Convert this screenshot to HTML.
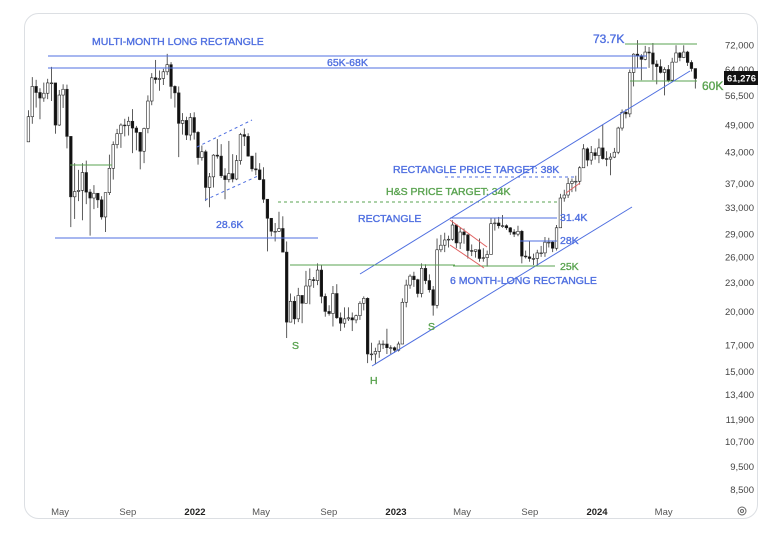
<!DOCTYPE html>
<html><head><meta charset="utf-8"><style>
html,body{margin:0;padding:0;background:#fff;}
svg{display:block;font-family:"Liberation Sans",sans-serif;}
</style></head><body>
<svg id="chart" width="783" height="538" viewBox="0 0 783 538" xmlns="http://www.w3.org/2000/svg">
<rect x="24.5" y="13.5" width="733" height="505" rx="14" fill="#fff" stroke="#dcdfe3"/>
<g id="candles"></g>
<g id="annot"></g>
<g id="axes"></g>
</svg>
<script>
// weekly candles starting 2021-03-01 (values in thousands USD)
const startDate = "2021-03-01";
const firstOpen = 45.2;
const closes = [51.0,59.0,57.3,55.8,57.1,60.0,60.0,49.0,56.6,58.2,46.4,34.7,35.6,35.8,39.0,35.5,34.5,35.3,34.2,31.5,35.4,39.8,44.6,47.0,49.0,48.9,49.9,48.3,47.3,43.2,48.2,55.0,61.5,61.0,61.3,63.3,65.5,59.0,57.2,49.4,50.1,46.7,50.8,47.3,
41.9,43.1,36.3,38.2,42.4,42.2,38.4,37.7,38.8,37.8,41.3,46.8,46.4,42.2,39.7,39.5,37.7,34.3,31.3,29.4,29.4,29.8,26.6,19.0,21.0,19.3,21.6,20.8,22.6,23.3,23.2,24.4,21.5,20.0,19.8,21.8,19.4,18.9,19.3,19.4,19.2,19.6,20.8,21.3,16.3,16.3,16.5,17.1,17.1,16.8,16.8,16.6,
17.1,20.9,22.7,23.7,23.3,21.8,24.6,23.2,22.2,20.6,26.9,27.5,28.2,28.3,30.3,27.8,29.3,28.9,26.8,26.7,26.9,25.8,25.9,26.3,30.5,30.6,30.2,30.2,29.9,29.3,29.0,29.4,26.1,26.0,25.8,25.8,26.5,26.5,27.9,27.9,27.1,29.9,34.5,35.0,37.0,37.4,37.4,39.9,43.7,41.4,42.9,42.3,
43.9,41.7,41.6,42.0,43.0,48.3,52.1,51.7,63.1,68.9,68.4,67.2,69.6,69.3,65.7,64.9,63.1,64.0,60.8,66.3,69.3,67.8,69.6,66.2,64.3,61.3];
const highs = [52.6,61.7,60.9,58.5,60.1,61.2,64.8,57.5,58.0,59.6,59.5,46.0,40.8,39.5,40.8,41.3,36.0,36.7,35.1,34.8,35.4,42.5,45.3,48.1,49.4,50.5,51.0,52.9,48.8,47.2,48.4,56.5,62.9,67.0,63.7,64.2,69.0,66.3,59.3,59.0,51.9,51.0,51.9,52.1,
47.6,44.4,43.5,38.9,42.6,45.8,44.7,39.8,45.4,42.6,42.4,47.2,48.2,47.1,41.5,42.9,40.8,40.0,34.3,31.3,30.6,32.3,31.6,28.0,21.8,21.5,22.4,21.4,24.3,24.6,23.6,25.2,25.0,21.8,20.6,22.6,22.8,19.9,20.4,20.4,19.9,19.7,21.0,21.5,21.4,17.2,16.8,17.4,17.4,18.4,17.0,16.9,
17.3,21.3,23.3,23.9,24.2,23.4,25.2,25.1,23.9,22.6,28.4,28.9,29.2,28.8,31.0,30.4,30.0,29.8,29.0,27.6,26.9,28.4,27.1,26.8,31.4,31.3,31.5,31.8,30.4,30.0,29.7,30.2,29.6,26.8,28.1,26.4,26.9,27.4,28.6,28.5,28.0,30.3,35.2,35.9,38.0,37.9,38.4,40.2,44.7,44.0,44.3,43.8,
45.9,49.0,43.2,42.8,43.9,48.6,52.8,52.9,64.0,69.2,73.7,68.9,71.7,71.3,72.7,66.9,67.2,64.7,65.4,67.7,71.9,69.6,71.9,70.0,66.9,63.4];
const lows = [47.0,49.3,53.3,50.4,54.8,55.5,55.0,47.0,48.8,53.2,43.8,30.0,31.2,34.0,31.0,33.5,28.8,32.7,32.9,31.1,29.3,35.0,37.7,43.8,43.9,46.4,46.6,42.8,43.4,39.6,40.8,47.1,53.9,59.8,57.8,59.4,62.3,55.6,53.3,42.0,46.8,45.6,45.5,45.7,
40.5,41.3,34.0,33.0,36.3,41.7,38.0,34.3,37.2,37.2,37.6,40.5,44.3,42.1,39.2,38.5,37.6,33.7,26.7,28.7,28.0,29.3,26.6,17.6,19.7,18.8,19.0,18.9,20.8,20.7,22.4,22.7,20.8,19.5,19.6,18.6,19.3,18.2,18.5,19.1,18.2,18.9,19.2,20.1,15.6,15.8,15.5,16.0,16.7,16.3,16.3,16.4,
16.5,17.1,20.4,22.3,22.5,21.4,21.4,22.8,21.9,19.6,20.3,26.6,26.6,27.2,28.1,27.1,27.0,27.7,25.8,26.1,25.9,25.4,25.4,24.8,26.3,29.5,29.8,29.9,29.6,28.9,28.6,28.7,25.2,25.8,25.4,25.0,24.9,26.0,26.0,27.2,26.6,26.8,29.9,33.9,34.5,35.5,35.6,36.8,39.9,40.2,40.5,41.5,
40.8,41.5,40.2,38.5,41.8,42.6,47.7,50.6,50.9,59.0,64.5,60.8,66.9,64.5,60.8,59.6,62.8,56.5,60.2,60.7,66.6,66.6,67.6,65.1,63.4,58.4];
const priceTicks = [72000,64000,56500,49000,43000,37000,33000,29000,26000,23000,20000,17000,15000,13400,11900,10700,9500,8500];
const timeTicks = [["2021-05-01","May",false],["2021-09-01","Sep",false],["2022-01-01","2022",true],["2022-05-01","May",false],["2022-09-01","Sep",false],["2023-01-01","2023",true],["2023-05-01","May",false],["2023-09-01","Sep",false],["2024-01-01","2024",true],["2024-05-01","May",false]];
const lastPrice = "61,276";

const NS="http://www.w3.org/2000/svg";
const DAY=86400000;
function yOf(p){return 45+(Math.log(72000)-Math.log(p))*208;}
function yK(k){return yOf(k*1000);}
function xOf(d){const t=(typeof d==="string"?Date.parse(d+"T00:00:00Z"):d);return 195+(t-Date.parse("2022-01-01T00:00:00Z"))/DAY*0.5507;}
function mk(tag,attrs,parent){const e=document.createElementNS(NS,tag);for(const k in attrs)e.setAttribute(k,attrs[k]);parent.appendChild(e);return e;}

const cg=document.getElementById('candles');
const t0=Date.parse(startDate+"T00:00:00Z");
closes.forEach((c,i)=>{
  const o=i===0?firstOpen:closes[i-1];
  const x=xOf(t0+(i*7+3.5)*DAY);
  const up=c>=o;
  const g=mk('g',{},cg);
  
  
  mk('line',{x1:x,x2:x,y1:yK(highs[i]),y2:yK(lows[i]),stroke:'#333','stroke-width':0.8},g);
  const yt=yK(Math.max(o,c)),yb=yK(Math.min(o,c));
  mk('rect',{x:x-1.3,y:yt,width:2.6,height:Math.max(0.8,yb-yt),fill:up?'#fff':'#111',stroke:'#222','stroke-width':0.6},g);
});

const ax=document.getElementById('axes');
priceTicks.forEach(p=>{
  const t=mk('text',{x:754,y:yOf(p)+3.5,'text-anchor':'end','font-size':9.5,fill:'#444'},ax);
  t.textContent=p.toLocaleString('en-US');
  
  
});
timeTicks.forEach(tk=>{
  const t=mk('text',{x:xOf(tk[0]),y:515,'text-anchor':'middle','font-size':9.5,fill:tk[2]?'#222':'#555','font-weight':tk[2]?'bold':'normal'},ax);
  t.textContent=tk[1];
  
  
});
const pl=mk('rect',{x:724,y:71,width:34,height:14,fill:'#111'},ax);


const plt=mk('text',{x:756,y:81.5,'text-anchor':'end','font-size':9.5,fill:'#fff','font-weight':'bold'},ax);
plt.textContent=lastPrice;


const st=mk('circle',{cx:742,cy:511,r:4,fill:'none',stroke:'#666','stroke-width':1},ax);


mk('circle',{cx:742,cy:511,r:1.5,fill:'none',stroke:'#666','stroke-width':1},ax);

const an=document.getElementById('annot');
const BLUE='#4f6fe0',GREEN='#5aa350',RED='#e06060';
function ln(name,x1,y1,x2,y2,col,dash,w){const e=mk('line',{x1,y1,x2,y2,stroke:col,'stroke-width':w||1},an);if(dash)e.setAttribute('stroke-dasharray',dash);return e;}
function tx(name,x,y,s,col,size){const e=mk('text',{x,y,fill:col,stroke:col,'stroke-width':0.35,'font-size':size||10.5},an);e.textContent=s;return e;}

ln('rect-top-68k',48,56,647,56,BLUE);
ln('rect-bottom-65k',48,68,647,68,BLUE);
tx('multi-month-rectangle-label',92,45,'MULTI-MONTH LONG RECTANGLE',BLUE);
tx('65k-68k-label',327,66,'65K-68K',BLUE);
tx('73.7k-label',593,43,'73.7K',BLUE,12);
ln('high-73.7k-line',625,44,697,44,GREEN);
ln('support-60k-line',630,81,697,81,GREEN);
tx('60k-label',702,90,'60K',GREEN,12);
ln('support-28.6k-line',55,238,318,238,BLUE);
tx('28.6k-label',216,228,'28.6K',BLUE);
ln('flag-upper',197,147,252,120,BLUE,'3,3');
ln('flag-lower',205,200,258,176,BLUE,'3,3');
ln('short-green-line',70,165,112,165,GREEN);
ln('hs-target-line',278,202,557,202,GREEN,'3,3');
tx('hs-target-label',386,195,'H&S PRICE TARGET: 34K',GREEN);
ln('rect-target-line',445,177,575,177,BLUE,'3,3');
tx('rect-target-label',393,173,'RECTANGLE PRICE TARGET: 38K',BLUE);
tx('rectangle-label',358,222,'RECTANGLE',BLUE);
ln('channel-upper',360,274,690,71,BLUE);
ln('channel-lower',372,366,632,207,BLUE);
ln('neckline',290,265,455,265,GREEN);
ln('support-25k-line',453,266,555,266,GREEN);
tx('25k-label',560,270,'25K',GREEN);
ln('resistance-31.4k-line',450,218,557,218,BLUE);
tx('31.4k-label',560,221,'31.4K',BLUE);
ln('level-28k-line',520,241,557,241,BLUE);
tx('28k-label',560,244,'28K',BLUE);
tx('six-month-rectangle-label',450,284,'6 MONTH-LONG RECTANGLE',BLUE);
ln('bull-flag-upper',450,220,487,247,RED);
ln('bull-flag-lower',450,245,484,268,RED);
ln('mini-flag',566,193,580,183,RED);
tx('left-shoulder-label',292,349,'S',GREEN);
tx('head-label',370,384,'H',GREEN);
tx('right-shoulder-label',428,330,'S',GREEN);
</script>
</body></html>
